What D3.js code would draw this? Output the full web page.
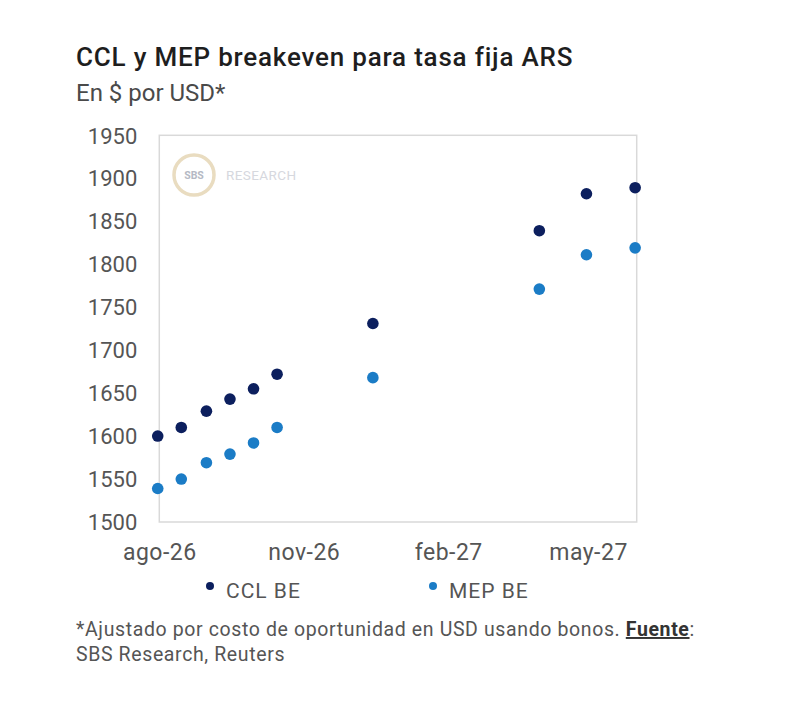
<!DOCTYPE html>
<html><head><meta charset="utf-8">
<script src="https://cdn.jsdelivr.net/npm/d3@7"></script>
<style>
html,body{margin:0;padding:0;background:#fff;}
svg{display:block;font-family:Roboto,"Noto Sans",sans-serif;}
</style></head>
<body>
<svg id="chart" width="800" height="706"></svg>
<script>
// ---- data ----
const dates = ["2026-07-31","2026-08-15","2026-08-31","2026-09-15","2026-09-30","2026-10-15","2026-12-15","2027-03-31","2027-04-30","2027-05-31"];
const cclBE = [1600,1610,1629,1643,1655,1672,1731,1839,1882,1889];
const mepBE = [1539,1550,1569,1579,1592,1610,1668,1771,1811,1819];
const xTickDates = ["2026-08-01","2026-11-01","2027-02-01","2027-05-01"];
const xTickLabels = ["ago-26","nov-26","feb-27","may-27"];
const yTicks = [1500,1550,1600,1650,1700,1750,1800,1850,1900,1950];
const seriesNames = ["CCL BE","MEP BE"];
const colors = ["#0c1f5e","#1b7cc6"];

const parse = d3.utcParse("%Y-%m-%d");
const svg = d3.select("#chart");

const L=159.3, R=636.7, T=135.3, B=522;
const x = d3.scaleUtc().domain([parse("2026-08-01"), parse("2027-06-01")]).range([L,R]);
const y = d3.scaleLinear().domain([1500,1950]).range([B,T]);

// title
svg.append("text").attr("x",76).attr("y",66).attr("font-size",26).attr("font-weight",500)
  .attr("letter-spacing",0.8).attr("fill","#1e1e1e").text("CCL y MEP breakeven para tasa fija ARS");
svg.append("text").attr("x",76).attr("y",100.5).attr("font-size",24).attr("fill","#4a4a4a")
  .text("En $ por USD*");

// frame
svg.append("rect").attr("x",L).attr("y",T).attr("width",R-L).attr("height",B-T)
  .attr("fill","none").attr("stroke","#d9d9d9").attr("stroke-width",1.5);

// watermark
const wm = svg.append("g");
wm.append("circle").attr("cx",194).attr("cy",175).attr("r",20)
  .attr("fill","#fff").attr("stroke","#e9dcc0").attr("stroke-width",3.5);
wm.append("text").attr("x",194).attr("y",179).attr("text-anchor","middle").attr("font-size",10.5)
  .attr("font-weight",700).attr("fill","#b5b9c4").text("SBS");
wm.append("text").attr("x",226).attr("y",180).attr("font-size",13.5).attr("fill","#d6d8de")
  .attr("letter-spacing",0.4).text("RESEARCH");

// y axis
const yAxis = d3.axisLeft(y).tickValues(yTicks).tickSize(0).tickPadding(0).tickFormat(d3.format("d"));
const gy = svg.append("g").attr("transform",`translate(${L-22},0)`).call(yAxis);
gy.select(".domain").remove();
gy.selectAll("text").attr("font-size",22).attr("fill","#555").attr("font-family","Roboto, sans-serif").attr("dy","0.35em");

// x axis
const xAxis = d3.axisBottom(x).tickValues(xTickDates.map(parse)).tickSize(0).tickPadding(0)
  .tickFormat((d,i)=>xTickLabels[i]);
const gx = svg.append("g").attr("transform",`translate(0,${B+30})`).call(xAxis);
gx.select(".domain").remove();
gx.selectAll("text").attr("font-size",23).attr("letter-spacing",0.5).attr("fill","#555")
  .attr("font-family","Roboto, sans-serif").attr("dy","0.33em");

// points
const series = [cclBE, mepBE];
series.forEach((vals,si)=>{
  svg.append("g").selectAll("circle").data(vals).join("circle")
    .attr("cx",(d,i)=>x(parse(dates[i])))
    .attr("cy",d=>y(d))
    .attr("r",5.8)
    .attr("fill",colors[si]);
});

// legend
const legX = [210, 433];
seriesNames.forEach((n,i)=>{
  svg.append("circle").attr("cx",legX[i]).attr("cy",586).attr("r",4).attr("fill",colors[i]);
  svg.append("text").attr("x",legX[i]+16).attr("y",598).attr("font-size",21).attr("letter-spacing",1)
    .attr("fill","#555").text(n);
});

// footnote
const fn = svg.append("text").attr("x",76).attr("y",636).attr("font-size",19.5).attr("letter-spacing",0.62).attr("fill","#555");
fn.append("tspan").text("*Ajustado por costo de oportunidad en USD usando bonos. ");
fn.append("tspan").attr("font-weight",700).attr("fill","#333").attr("text-decoration","underline").text("Fuente");
fn.append("tspan").text(":");
svg.append("text").attr("x",76).attr("y",661).attr("font-size",19.5).attr("letter-spacing",0.62).attr("fill","#555")
  .text("SBS Research, Reuters");
</script>
</body></html>
